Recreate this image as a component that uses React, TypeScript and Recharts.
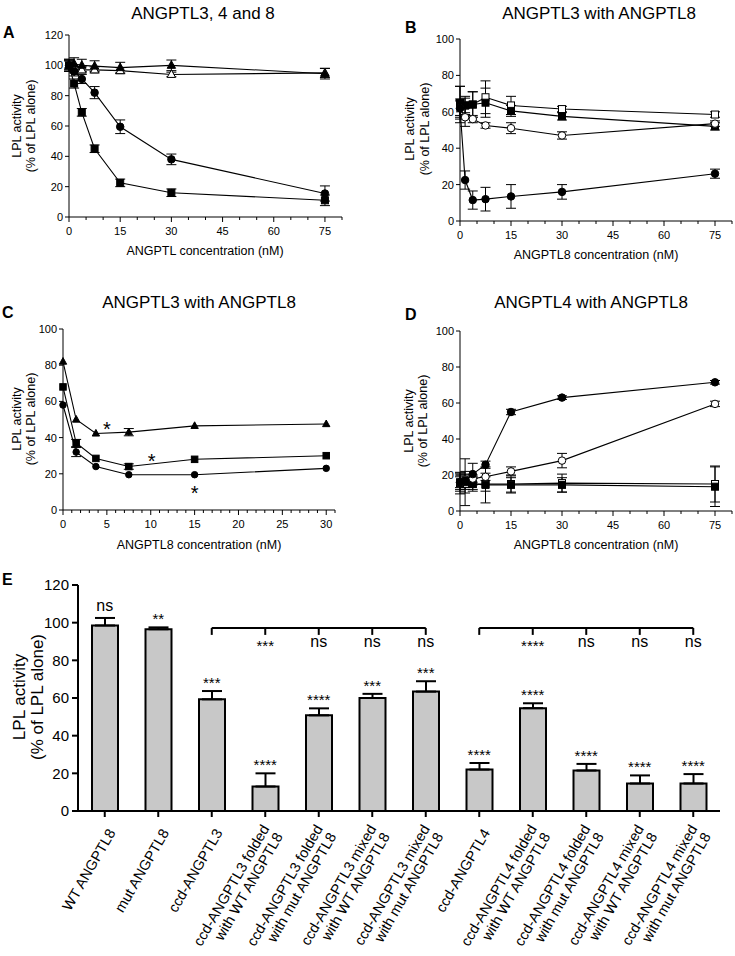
import React from 'react';
import {
  ScatterChart,
  Scatter,
  XAxis,
  YAxis,
  ErrorBar,
  BarChart,
  Bar,
  ReferenceLine,
  ReferenceDot,
} from 'recharts';

const FONT = '"Liberation Sans", Arial, Helvetica, sans-serif';

// Panel A: ANGPTL3, 4 and 8 (nM)
const concA = [0, 1.5, 3.75, 7.5, 15, 30, 75];
const aTriFilled = [100, 101, 100, 99.5, 98.5, 100, 94.5];
const aTriFilledErr = [4, 4, 4, 3.5, 3.5, 3.5, 3.5];
const aTriOpen = [100, 97, 97, 97, 96.5, 94, 95];
const aTriOpenErr = [3, 2, 2, 2, 2, 1.5, 3];
const aCircle = [100, 96, 91, 82, 59.5, 38, 15.5];
const aCircleErr = [4, 3, 3, 4, 4.5, 3.5, 5];
const aSquare = [100, 88, 69, 45, 22.5, 16, 11];
const aSquareErr = [3, 3, 2.5, 2.5, 2.5, 2.5, 3.5];

// Panel B: ANGPTL3 with ANGPTL8
const concB = [0, 1.5, 3.75, 7.5, 15, 30, 75];
const bOpenSq = [64, 63.5, 64, 68, 63.5, 61.5, 58.5];
const bOpenSqErr = [10, 5, 7, 9, 5, 1.5, 1.5];
const bFilledSq = [65, 63.5, 64, 65, 60.5, 57.5, 52];
const bFilledSqErr = [9, 4, 7, 8, 3, 2, 2];
const bOpenCirc = [62, 57, 56, 52.5, 51, 47, 53.5];
const bOpenCircErr = [5, 5, 2, 1.5, 3, 2, 1.5];
const bFilledCirc = [62, 22.5, 11.5, 12, 13.5, 16, 26];
const bFilledCircErr = [4, 5, 5, 6.5, 6.5, 4, 2.5];

// Panel C: ANGPTL3 with ANGPTL8 (0-30 nM)
const concC = [0, 1.5, 3.75, 7.5, 15, 30];
const cTri = [82, 50, 42.3, 43, 46.5, 47.5];
const cTriErr = [0, 0, 0, 2, 0, 0];
const cSq = [68, 37, 28.5, 24, 28, 30];
const cSqErr = [0, 2, 0, 1.5, 0, 0];
const cCirc = [58, 32, 24, 19.5, 19.5, 23];
const cCircErr = [0, 2.5, 0, 0, 0, 0];
const cStarX = [5, 10.1, 15];
const cStarY = [44.8, 27, 9.3];

// Panel D: ANGPTL4 with ANGPTL8
const concD = [0, 1.5, 3.75, 7.5, 15, 30, 75];
const dFilledCirc = [16, 17, 20.5, 25.7, 55, 63, 71.5];
const dFilledCircErr = [3, 5, 6, 2, 1.5, 1, 1];
const dOpenCirc = [16, 17.5, 18, 19, 22, 28, 59.5];
const dOpenCircErr = [4, 3, 2, 2, 2.5, 4, 1.5];
const dFilledSq = [15.5, 16, 15, 14.5, 14.5, 14.5, 13.5];
const dFilledSqErr = [6, 13, 4, 10, 4, 4, 11];
const dOpenSq = [16, 15, 15, 15, 15, 15.5, 15];
const dOpenSqErr = [5, 5, 3, 4, 5, 5, 10];

// Panel E: bars
const eLabels = [
  'WT ANGPTL8',
  'mut ANGPTL8',
  'ccd-ANGPTL3',
  'ccd-ANGPTL3 folded\nwith WT ANGPTL8',
  'ccd-ANGPTL3 folded\nwith mut ANGPTL8',
  'ccd-ANGPTL3 mixed\nwith WT ANGPTL8',
  'ccd-ANGPTL3 mixed\nwith mut ANGPTL8',
  'ccd-ANGPTL4',
  'ccd-ANGPTL4 folded\nwith WT ANGPTL8',
  'ccd-ANGPTL4 folded\nwith mut ANGPTL8',
  'ccd-ANGPTL4 mixed\nwith WT ANGPTL8',
  'ccd-ANGPTL4 mixed\nwith mut ANGPTL8',
];
const eValues = [98.5, 96.5, 59.3, 13, 50.8, 60, 63.4, 22, 54.6, 21.5, 14.6, 14.6];
const eErrors = [4, 1, 4.4, 7, 3.7, 2.2, 5.5, 3.5, 2.6, 3.5, 4.3, 5];
const eSig = ['ns', '**', '***', '****', '****', '***', '***', '****', '****', '****', '****', '****'];
const bracket3 = [2, 3, 4, 5, 6];
const bracket3Sig = ['', '***', 'ns', 'ns', 'ns'];
const bracket4 = [7, 8, 9, 10, 11];
const bracket4Sig = ['', '****', 'ns', 'ns', 'ns'];
const BRACKET_Y = 97.2;

const series = (xs: number[], ys: number[], es: number[]) =>
  xs.map((x, i) => ({ x, y: ys[i], e: es[i] }));

const eData = eLabels.map((name, i) => ({ name, v: eValues[i], e: [0, eErrors[i]] }));

type Kind = 'circle' | 'openCircle' | 'square' | 'openSquare' | 'triangle' | 'openTriangle';

function Marker({ cx, cy, kind, s }: { cx?: number; cy?: number; kind: Kind; s: number }) {
  if (cx == null || cy == null) return null;
  const h = s / 2;
  const fill = kind.startsWith('open') ? '#fff' : '#000';
  if (kind === 'circle' || kind === 'openCircle') {
    return <circle cx={cx} cy={cy} r={h} fill={fill} stroke="#000" strokeWidth={1} />;
  }
  if (kind === 'square' || kind === 'openSquare') {
    return <rect x={cx - h} y={cy - h} width={s} height={s} fill={fill} stroke="#000" strokeWidth={1} />;
  }
  const pts = `${cx},${cy - h * 1.15} ${cx + h * 1.05},${cy + h * 0.75} ${cx - h * 1.05},${cy + h * 0.75}`;
  return <polygon points={pts} fill={fill} stroke="#000" strokeWidth={1} />;
}

const shapeOf = (kind: Kind, s: number) => (p: any) => <Marker cx={p.cx} cy={p.cy} kind={kind} s={s} />;

function XTick(props: any) {
  const { x, y, payload, every } = props;
  const v = payload.value;
  const major = Math.abs(v % every) < 1e-6;
  return (
    <g>
      <line x1={x} x2={x} y1={y} y2={y + (major ? 5 : 3)} stroke="#000" />
      {major && (
        <text x={x} y={y + 18} textAnchor="middle" fontSize={11} fill="#000">
          {v}
        </text>
      )}
    </g>
  );
}

function CatTick(props: any) {
  const { x, y, payload } = props;
  const lines = String(payload.value).split('\n');
  const lh = 15.5;
  return (
    <g transform={`translate(${x + 7},${y + 11})`}>
      <text transform="rotate(-60)" textAnchor="end" fontSize={14.5} fill="#000">
        {lines.map((l, i) => (
          <tspan key={i} x={0} dy={i === 0 ? 5 - ((lines.length - 1) * lh) / 2 : lh}>
            {l}
          </tspan>
        ))}
      </text>
    </g>
  );
}

type SeriesDef = { data: { x: number; y: number; e: number }[]; kind: Kind; size: number };

function CurvePanel(props: {
  left: number;
  top: number;
  width: number;
  height: number;
  margin: { top: number; right: number; bottom: number; left: number };
  yWidth: number;
  xDomain: [number, number];
  xStep: number;
  labelEvery: number;
  yMax: number;
  list: SeriesDef[];
  children?: React.ReactNode;
}) {
  const { left, top, width, height, margin, yWidth, xDomain, xStep, labelEvery, yMax, list, children } = props;
  const xTicks: number[] = [];
  for (let v = xDomain[0]; v <= xDomain[1] + 1e-6; v += xStep) xTicks.push(v);
  const yTicks: number[] = [];
  for (let v = 0; v <= yMax; v += 20) yTicks.push(v);
  return (
    <div style={{ position: 'absolute', left, top }}>
      <ScatterChart width={width} height={height} margin={margin}>
        <XAxis
          type="number"
          dataKey="x"
          domain={xDomain}
          ticks={xTicks}
          interval={0}
          height={25}
          tickSize={0}
          tickMargin={0}
          tickLine={false}
          axisLine={{ stroke: '#000' }}
          tick={(p: any) => <XTick {...p} every={labelEvery} />}
        />
        <YAxis
          type="number"
          dataKey="y"
          domain={[0, yMax]}
          ticks={yTicks}
          interval={0}
          width={yWidth}
          tickSize={4}
          tickMargin={2}
          axisLine={{ stroke: '#000' }}
          tickLine={{ stroke: '#000' }}
          tick={{ fill: '#000', fontSize: 11 }}
        />
        {list.map((s, i) => (
          <Scatter
            key={i}
            data={s.data}
            fill="#000"
            line={{ stroke: '#000', strokeWidth: 1.1 }}
            lineType="joint"
            shape={shapeOf(s.kind, s.size)}
            isAnimationActive={false}
          >
            <ErrorBar dataKey="e" width={5} stroke="#000" strokeWidth={1} direction="y" />
          </Scatter>
        ))}
        {children}
      </ScatterChart>
    </div>
  );
}

function VLabel({ x1, x2, y, size }: { x1: number; x2: number; y: number; size: number }) {
  return (
    <>
      <text transform={`translate(${x1},${y}) rotate(-90)`} textAnchor="middle" fontSize={size} fill="#000">
        LPL activity
      </text>
      <text transform={`translate(${x2},${y}) rotate(-90)`} textAnchor="middle" fontSize={size} fill="#000">
        (% of LPL alone)
      </text>
    </>
  );
}

export default function App() {
  const brackets = [
    { idx: bracket3, sig: bracket3Sig },
    { idx: bracket4, sig: bracket4Sig },
  ];
  return (
    <div
      style={{
        position: 'absolute',
        left: 0,
        top: 0,
        width: 735,
        height: 956,
        background: '#fff',
        fontFamily: FONT,
        overflow: 'hidden',
      }}
    >
      {/* A */}
      <CurvePanel
        left={0}
        top={0}
        width={360}
        height={250}
        margin={{ top: 35, right: 18, bottom: 8, left: 0 }}
        yWidth={69}
        xDomain={[0, 80]}
        xStep={5}
        labelEvery={15}
        yMax={120}
        list={[
          { data: series(concA, aTriOpen, aTriOpenErr), kind: 'openTriangle', size: 8 },
          { data: series(concA, aTriFilled, aTriFilledErr), kind: 'triangle', size: 8 },
          { data: series(concA, aCircle, aCircleErr), kind: 'circle', size: 7.5 },
          { data: series(concA, aSquare, aSquareErr), kind: 'square', size: 7 },
        ]}
      />

      {/* B */}
      <CurvePanel
        left={370}
        top={0}
        width={365}
        height={250}
        margin={{ top: 39, right: 3, bottom: 4, left: 0 }}
        yWidth={90}
        xDomain={[0, 80]}
        xStep={5}
        labelEvery={15}
        yMax={100}
        list={[
          { data: series(concB, bOpenSq, bOpenSqErr), kind: 'openSquare', size: 7 },
          { data: series(concB, bFilledSq, bFilledSqErr), kind: 'square', size: 7 },
          { data: series(concB, bOpenCirc, bOpenCircErr), kind: 'openCircle', size: 7.5 },
          { data: series(concB, bFilledCirc, bFilledCircErr), kind: 'circle', size: 7.5 },
        ]}
      />

      {/* C */}
      <CurvePanel
        left={0}
        top={290}
        width={360}
        height={250}
        margin={{ top: 39, right: 25, bottom: 5, left: 0 }}
        yWidth={63}
        xDomain={[0, 31]}
        xStep={1}
        labelEvery={5}
        yMax={100}
        list={[
          { data: series(concC, cTri, cTriErr), kind: 'triangle', size: 7 },
          { data: series(concC, cSq, cSqErr), kind: 'square', size: 6.5 },
          { data: series(concC, cCirc, cCircErr), kind: 'circle', size: 6.5 },
        ]}
      >
        {cStarX.map((x, i) => (
          <ReferenceDot
            key={i}
            x={x}
            y={cStarY[i]}
            r={0}
            fill="none"
            stroke="none"
            label={{ value: '*', position: 'center', fontSize: 20, fill: '#000' }}
          />
        ))}
      </CurvePanel>

      {/* D */}
      <CurvePanel
        left={370}
        top={290}
        width={365}
        height={250}
        margin={{ top: 41, right: 3, bottom: 4, left: 0 }}
        yWidth={90}
        xDomain={[0, 80]}
        xStep={5}
        labelEvery={15}
        yMax={100}
        list={[
          { data: series(concD, dOpenSq, dOpenSqErr), kind: 'openSquare', size: 7 },
          { data: series(concD, dFilledSq, dFilledSqErr), kind: 'square', size: 7 },
          { data: series(concD, dOpenCirc, dOpenCircErr), kind: 'openCircle', size: 7.5 },
          { data: series(concD, dFilledCirc, dFilledCircErr), kind: 'circle', size: 7.5 },
        ]}
      />

      {/* E */}
      <div style={{ position: 'absolute', left: 0, top: 560 }}>
        <BarChart width={735} height={396} data={eData} margin={{ top: 25, right: 15, bottom: 5, left: 0 }}>
          <XAxis
            dataKey="name"
            type="category"
            interval={0}
            height={140}
            tickSize={6}
            tickMargin={2}
            axisLine={{ stroke: '#000', strokeWidth: 2 }}
            tickLine={{ stroke: '#000', strokeWidth: 2 }}
            tick={(p: any) => <CatTick {...p} />}
          />
          <YAxis
            type="number"
            domain={[0, 120]}
            ticks={[0, 20, 40, 60, 80, 100, 120]}
            interval={0}
            width={78}
            tickSize={6}
            tickMargin={3}
            axisLine={{ stroke: '#000', strokeWidth: 2 }}
            tickLine={{ stroke: '#000', strokeWidth: 2 }}
            tick={{ fill: '#000', fontSize: 15 }}
          />
          <Bar dataKey="v" fill="#c8c8c8" stroke="#000" strokeWidth={2} barSize={26} isAnimationActive={false}>
            <ErrorBar dataKey="e" width={10} stroke="#000" strokeWidth={2} direction="y" />
          </Bar>
          {eLabels.map((name, i) => (
            <ReferenceDot
              key={'s' + i}
              x={name}
              y={eValues[i] + eErrors[i]}
              r={0}
              fill="none"
              stroke="none"
              label={{
                value: eSig[i],
                position: 'top',
                offset: eSig[i] === 'ns' ? 7 : 3,
                fontSize: eSig[i] === 'ns' ? 16 : 15,
                fill: '#000',
              }}
            />
          ))}
          {brackets.map((b, bi) => (
            <React.Fragment key={'b' + bi}>
              <ReferenceLine
                segment={[
                  { x: eLabels[b.idx[0]], y: BRACKET_Y },
                  { x: eLabels[b.idx[b.idx.length - 1]], y: BRACKET_Y },
                ]}
                stroke="#000"
                strokeWidth={2}
              />
              {b.idx.map((k, j) => (
                <ReferenceLine
                  key={'t' + j}
                  segment={[
                    { x: eLabels[k], y: BRACKET_Y },
                    { x: eLabels[k], y: BRACKET_Y - 3.7 },
                  ]}
                  stroke="#000"
                  strokeWidth={2}
                />
              ))}
              {b.idx.map((k, j) =>
                b.sig[j] ? (
                  <ReferenceDot
                    key={'l' + j}
                    x={eLabels[k]}
                    y={b.sig[j] === 'ns' ? 87 : 85}
                    r={0}
                    fill="none"
                    stroke="none"
                    label={{
                      value: b.sig[j],
                      position: 'top',
                      offset: 0,
                      fontSize: b.sig[j] === 'ns' ? 16 : 15,
                      fill: '#000',
                    }}
                  />
                ) : null
              )}
            </React.Fragment>
          ))}
        </BarChart>
      </div>

      {/* titles, panel letters and axis titles */}
      <svg
        width={735}
        height={956}
        style={{ position: 'absolute', left: 0, top: 0, pointerEvents: 'none', fontFamily: FONT }}
      >
        <g fontSize={17} fill="#000" textAnchor="middle">
          <text x={203} y={19}>ANGPTL3, 4 and 8</text>
          <text x={599} y={19}>ANGPTL3 with ANGPTL8</text>
          <text x={199} y={308}>ANGPTL3 with ANGPTL8</text>
          <text x={591} y={308}>ANGPTL4 with ANGPTL8</text>
        </g>
        <g fontSize={16} fontWeight="bold" fill="#000">
          <text x={3} y={38}>A</text>
          <text x={405} y={33}>B</text>
          <text x={2} y={318}>C</text>
          <text x={405} y={320}>D</text>
          <text x={2} y={585}>E</text>
        </g>
        <g fontSize={12.5} fill="#000" textAnchor="middle">
          <text x={205} y={255}>ANGPTL concentration (nM)</text>
          <text x={596} y={259}>ANGPTL8 concentration (nM)</text>
          <text x={199} y={549}>ANGPTL8 concentration (nM)</text>
          <text x={596} y={549}>ANGPTL8 concentration (nM)</text>
        </g>
        <VLabel x1={21} x2={35} y={126} size={12.5} />
        <VLabel x1={414} x2={429} y={129} size={12.5} />
        <VLabel x1={21} x2={35} y={419} size={12.5} />
        <VLabel x1={413} x2={427} y={421} size={12.5} />
        <VLabel x1={25} x2={43} y={697} size={17} />
      </svg>
    </div>
  );
}
